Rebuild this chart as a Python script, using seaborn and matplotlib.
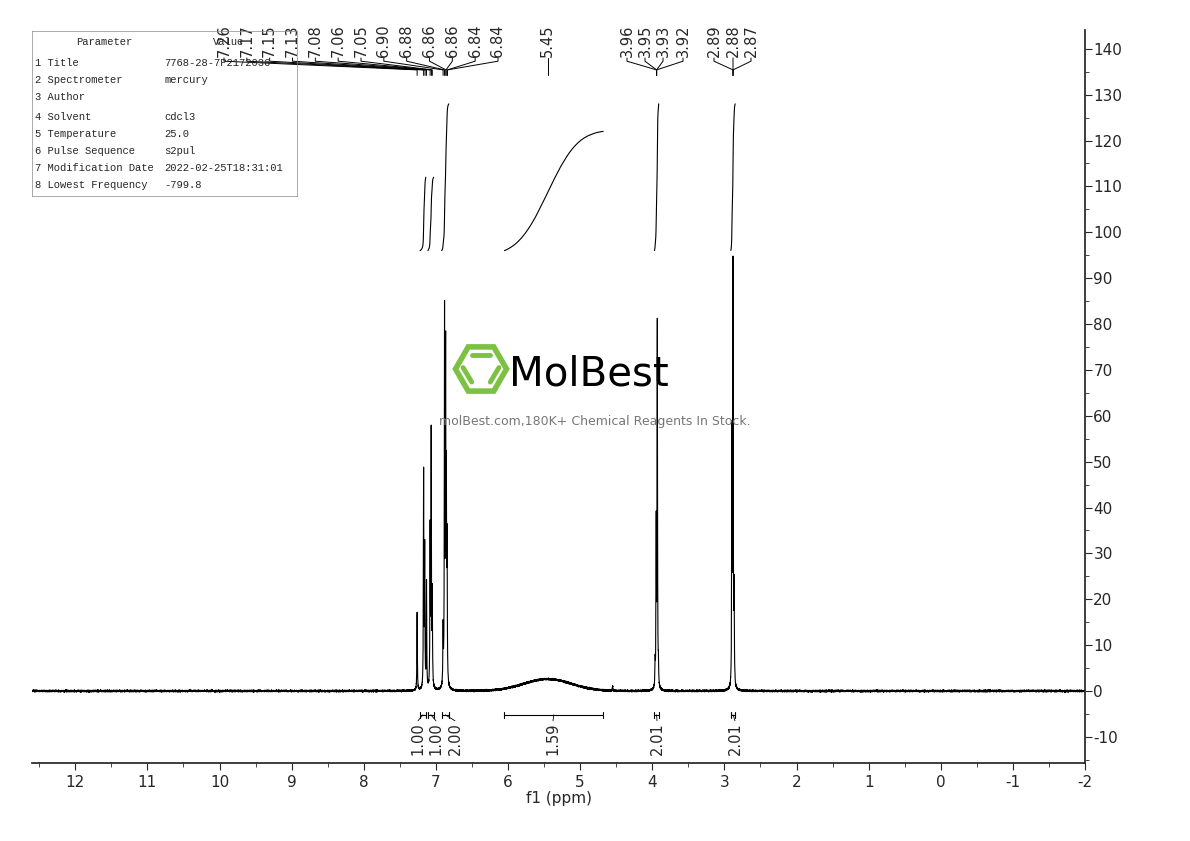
import numpy as np
import matplotlib
matplotlib.use("Agg")
import matplotlib.pyplot as plt
import seaborn as sns
from matplotlib.patches import RegularPolygon

# ---- data ----
peak_ppm = [7.26, 7.17, 7.155, 7.13, 7.08, 7.065, 7.05, 6.90, 6.88, 6.865, 6.855, 6.845,
            3.96, 3.945, 3.93, 3.915, 2.895, 2.88, 2.865, 4.55]
peak_h = [17, 47, 30, 23, 34, 55, 20, 12, 80, 69, 40, 29,
          5, 35, 79, 4, 54, 91, 20, 1.0]
broad_ppm, broad_h, broad_w = 5.45, 2.6, 0.33
peak_labels = ["7.26", "7.17", "7.15", "7.13", "7.08", "7.06", "7.05", "6.90", "6.88",
               "6.86", "6.86", "6.84", "6.84"]
peak_label_targets = [7.26, 7.17, 7.15, 7.13, 7.08, 7.06, 7.05, 6.90, 6.88, 6.86, 6.86, 6.84, 6.84]
grp2_labels = ["3.96", "3.95", "3.93", "3.92"]
grp3_labels = ["2.89", "2.88", "2.87"]
int_regions = [(7.22, 7.14), (7.11, 7.03), (6.92, 6.82), (6.05, 4.68), (3.97, 3.91), (2.91, 2.85)]
int_values = ["1.00", "1.00", "2.00", "1.59", "2.01", "2.01"]
int_rise = [16, 16, 32, 26, 32, 32]
table_params = ["1 Title", "2 Spectrometer", "3 Author", "4 Solvent", "5 Temperature",
                "6 Pulse Sequence", "7 Modification Date", "8 Lowest Frequency"]
table_values = ["7768-28-7P2172036", "mercury", "", "cdcl3", "25.0", "s2pul",
                "2022-02-25T18:31:01", "-799.8"]

# ---- spectrum ----
x = np.arange(-2.0, 12.6, 0.0004)
y = np.zeros_like(x)
g = 0.0035
for p, h in zip(peak_ppm, peak_h):
    y += h * g**2 / ((x - p)**2 + g**2)
y += broad_h * np.exp(-0.5 * ((x - broad_ppm) / broad_w)**2)
rng = np.random.default_rng(1)
y += rng.normal(0, 0.08, x.size)

sns.set_theme(style="ticks")
plt.rcParams['font.family'] = ['DejaVu Sans']
plt.rcParams['axes.unicode_minus'] = False
fig = plt.figure(figsize=(11.9, 8.41), dpi=100)
ax = fig.add_axes([32/1190, 78/841, (1085-32)/1190, (763-30)/841])
sns.lineplot(x=x, y=y, ax=ax, color="black", linewidth=0.8, estimator=None, sort=False)
ax.set_xlim(12.6, -2)
ax.set_ylim(-15.7, 144.1)

for (a, b), r in zip(int_regions, int_rise):
    m = (x <= a) & (x >= b)
    xs = x[m][::-1]
    ys = np.clip(y[m][::-1], 0, None)
    c = np.cumsum(ys); c = c / c[-1]
    ax.plot(xs, 96 + r * c, color="black", lw=0.8)

lab_px = [418, 436, 455, 553, 657, 735]
def px2ppm(px):
    return 12.6 - (px - 32) / (1053 / 14.6)
for (a, b), v, lp in zip(int_regions, int_values, lab_px):
    ax.plot([a, b], [-5.2, -5.2], color="black", lw=0.8)
    ax.plot([a, a], [-4.5, -5.9], color="black", lw=0.8)
    ax.plot([b, b], [-4.5, -5.9], color="black", lw=0.8)
    xl = px2ppm(lp)
    ax.plot([(a + b) / 2, xl], [-5.2, -6.5], color="black", lw=0.6)
    ax.text(xl, -6.8, v, rotation=90, ha="center", va="top", fontsize=10.5)

def label_group(labels, targets, px_list):
    for lab, t, px in zip(labels, targets, px_list):
        xl = px2ppm(px)
        ax.text(xl, 138.2, lab, rotation=90, ha="center", va="bottom", fontsize=10.5)
        ax.plot([xl, xl, t, t], [138.0, 137.3, 135.4, 134.2], color="black", lw=0.7)
label_group(peak_labels, peak_label_targets, np.linspace(224, 498, len(peak_labels)))
label_group(grp2_labels, [3.94] * 4, [627, 645, 663, 683])
label_group(grp3_labels, [2.88] * 3, [714, 733, 751])
ax.text(5.45, 138.2, "5.45", rotation=90, ha="center", va="bottom", fontsize=10.5)
ax.plot([5.45, 5.45], [138.0, 134.2], color="black", lw=0.7)

for s in ["left", "top"]:
    ax.spines[s].set_visible(False)
ax.yaxis.tick_right()
ax.set_yticks(np.arange(-10, 141, 10))
ax.set_yticks(np.arange(-15, 145, 5), minor=True)
ax.set_xticks(np.arange(-2, 13, 1))
ax.set_xticks(np.arange(-2, 12.6, 0.5), minor=True)
ax.set_xticklabels([str(v) for v in range(-2, 13)])
ax.tick_params(axis="both", which="major", length=5, labelsize=11, direction="out", width=0.8)
ax.tick_params(axis="both", which="minor", length=3, width=0.6)
ax.tick_params(axis="y", pad=1)
ax.set_xlabel("f1 (ppm)", fontsize=11, labelpad=1)
ax.set_ylabel("")

tax = fig.add_axes([32/1190, 1 - 196/841, (297-32)/1190, (196-31)/841])
tax.set_xlim(0, 1); tax.set_ylim(0, 1)
tax.set_xticks([]); tax.set_yticks([])
for s in tax.spines.values():
    s.set_linewidth(0.5); s.set_color("#888888")
tax.patch.set_alpha(0)
sf = dict(family=["Liberation Mono", "DejaVu Sans Mono"], fontsize=7.6)
tax.text(0.38, 0.935, "Parameter", ha="right", va="center", **sf)
tax.text(0.80, 0.935, "Value", ha="right", va="center", **sf)
rows_y = [0.805, 0.70, 0.60, 0.48, 0.375, 0.27, 0.17, 0.065]
for p, v, yy in zip(table_params, table_values, rows_y):
    tax.text(0.012, yy, p, ha="left", va="center", **sf)
    tax.text(0.5, yy, v, ha="left", va="center", **sf)

lax = fig.add_axes([452/1190, 1 - 398/841, 58/1190, 58/841])
lax.set_xlim(-1, 1); lax.set_ylim(-1, 1); lax.set_aspect("equal"); lax.axis("off")
lax.add_patch(RegularPolygon((0, 0), 6, radius=0.88, orientation=np.pi / 6,
                             fill=False, ec="#7dc142", lw=4))
lax.plot([-0.3, 0.3], [0.5, 0.5], color="#7dc142", lw=3.5, solid_capstyle="round")
lax.plot([-0.62, -0.32], [0.05, -0.45], color="#7dc142", lw=3.5, solid_capstyle="round")
lax.plot([0.62, 0.32], [0.05, -0.45], color="#7dc142", lw=3.5, solid_capstyle="round")
fig.text(509/1190, 1 - 374/841, "MolBest", fontsize=29, color="black", va="center",
         ha="left", family="DejaVu Sans")
fig.text(595/1190, 1 - 421/841, "molBest.com,180K+ Chemical Reagents In Stock.",
         fontsize=9, color="#777777", ha="center", va="center")

fig.savefig("out.png", dpi=100)
